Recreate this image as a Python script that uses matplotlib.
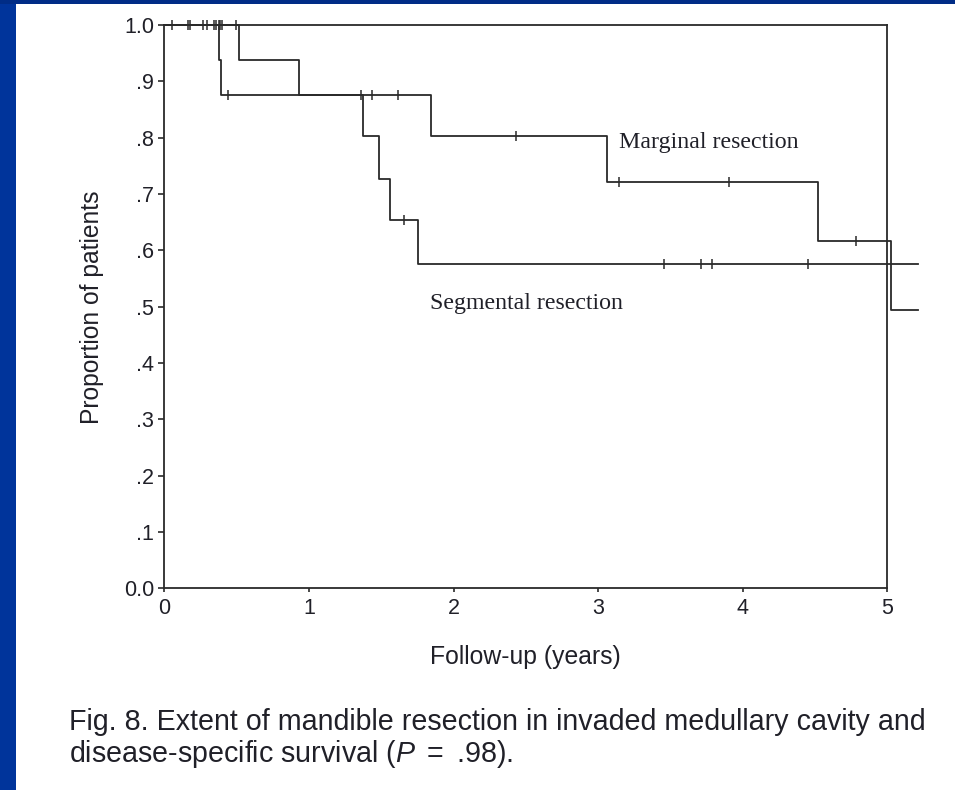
import matplotlib
matplotlib.use("Agg")
import matplotlib.pyplot as plt
from matplotlib.patches import Rectangle
import numpy as np

# ---------------- data ----------------
# Segmental resection (Kaplan-Meier steps)
seg_times = [0.0, 0.378, 0.390, 1.376, 1.482, 1.561, 1.757]
seg_surv = [1.0, 0.9375, 0.875, 0.803, 0.727, 0.654, 0.575]
seg_end = 5.21
seg_censor = [0.055, 0.166, 0.176, 0.266, 0.345, 0.360, 0.443, 1.360, 1.660,
              3.456, 3.714, 3.790, 4.454]

# Marginal resection
mar_times = [0.0, 0.520, 0.932, 1.845, 3.064, 4.519, 5.026]
mar_surv = [1.0, 0.9375, 0.875, 0.803, 0.722, 0.617, 0.494]
mar_end = 5.21
mar_censor = [0.298, 0.375, 0.388, 0.400, 0.498, 1.434, 1.616, 2.430,
              3.145, 3.907, 4.781]

x_ticks = [0, 1, 2, 3, 4, 5]
y_ticks = [0.0, 0.1, 0.2, 0.3, 0.4, 0.5, 0.6, 0.7, 0.8, 0.9, 1.0]
y_ticklabels = ["0.0", ".1", ".2", ".3", ".4", ".5", ".6", ".7", ".8", ".9", "1.0"]

x_label = "Follow-up (years)"
y_label = "Proportion of patients"
label_marginal = "Marginal resection"
label_segmental = "Segmental resection"
caption_1 = "Fig. 8. Extent of mandible resection in invaded medullary cavity and"
caption_2 = "disease-specific survival ($\\mathit{P}\\ =\\ $.98)."

# ---------------- style ----------------
plt.rcParams["font.family"] = ["Liberation Sans", "DejaVu Sans"]
plt.rcParams["mathtext.fontset"] = "custom"
plt.rcParams["mathtext.it"] = "Liberation Sans:italic"
plt.rcParams["mathtext.rm"] = "Liberation Sans"

W, H = 955, 790
fig = plt.figure(figsize=(W / 100, H / 100), dpi=100, facecolor="white")

# blue frame (left and top strips)
fig.patches.append(Rectangle((0, 0), 16 / W, 1, transform=fig.transFigure,
                             facecolor="#00349b", edgecolor="none", zorder=0))
fig.patches.append(Rectangle((0, 1 - 3.5 / H), 1, 3.5 / H, transform=fig.transFigure,
                             facecolor="#002c86", edgecolor="none", zorder=0))

ax_l, ax_r = 164.3, 887.3
ax_t, ax_b = 25.0, 588.3
ax = fig.add_axes([ax_l / W, 1 - ax_b / H, (ax_r - ax_l) / W, (ax_b - ax_t) / H])
ax.set_facecolor("white")
ax.set_xlim(0, 5)
ax.set_ylim(0, 1)

line_col = "#2a2a2a"
text_col = "#202028"

for sp in ax.spines.values():
    sp.set_color(line_col)
    sp.set_linewidth(1.3)


def step_value(times, surv, t):
    idx = np.searchsorted(times, t, side="right") - 1
    return surv[idx]


for times, surv, end, cens in [(seg_times, seg_surv, seg_end, seg_censor),
                               (mar_times, mar_surv, mar_end, mar_censor)]:
    xs = list(times) + [end]
    ys = list(surv) + [surv[-1]]
    ax.step(xs, ys, where="post", color=line_col, lw=1.3, clip_on=False, zorder=3)
    cy = [step_value(times, surv, t) for t in cens]
    ax.plot(cens, cy, linestyle="none", marker="|", markersize=7.5,
            markeredgewidth=1.1, color=line_col, clip_on=False, zorder=4)

ax.set_xticks(x_ticks)
ax.set_xticklabels([str(v) for v in x_ticks])
ax.set_yticks(y_ticks)
ax.set_yticklabels(y_ticklabels)
ax.tick_params(axis="both", direction="out", colors=line_col, labelcolor=text_col,
               labelsize=15.5, width=1.2)
ax.tick_params(axis="y", length=4, pad=3.5)
ax.tick_params(axis="x", length=3, pad=4)

ax.text(3.147, 0.781, label_marginal, family="Liberation Serif", fontsize=17.2,
        color=text_col, ha="left", va="baseline")
ax.text(1.837, 0.495, label_segmental, family="Liberation Serif", fontsize=17.2,
        color=text_col, ha="left", va="baseline")

fig.text(92 / W, 1 - 307 / H, y_label, rotation=90, fontsize=17.7, color=text_col,
         ha="center", va="center")
fig.text(525.5 / W, 1 - 664 / H, x_label, fontsize=17.8, color=text_col,
         ha="center", va="baseline")

fig.text(69.3 / W, 1 - 730 / H, caption_1, fontsize=20.6, color=text_col,
         ha="left", va="baseline")
fig.text(69.3 / W, 1 - 762 / H, caption_2, fontsize=20.6, color=text_col,
         ha="left", va="baseline")

fig.savefig("out.png", dpi=100, facecolor="white")
